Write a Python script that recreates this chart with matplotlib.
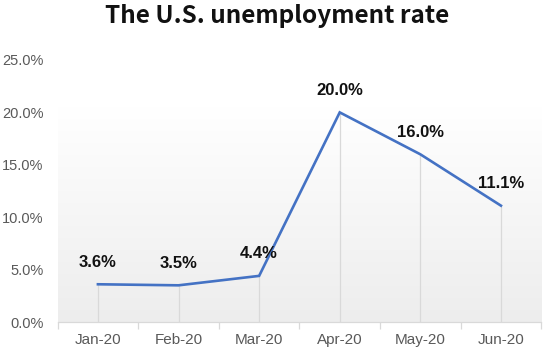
import numpy as np
import matplotlib
matplotlib.use("Agg")
import matplotlib.pyplot as plt
from matplotlib.colors import LinearSegmentedColormap

months = ["Jan-20", "Feb-20", "Mar-20", "Apr-20", "May-20", "Jun-20"]
rates = [3.6, 3.5, 4.4, 20.0, 16.0, 11.1]
yticks = [0, 5, 10, 15, 20, 25]

plt.rcParams['font.family'] = ['Liberation Sans', 'DejaVu Sans']

fig = plt.figure(figsize=(5.54, 3.56), dpi=100)
ax = fig.add_axes([0.104, 0.0955, 0.873, 0.736])

x = np.arange(len(months))

# soft gradient background in the plot area
cmap = LinearSegmentedColormap.from_list("bg", ["#ededed", "#ffffff"])
grad = np.linspace(0, 1, 256).reshape(-1, 1)
ax.imshow(grad, cmap=cmap, aspect="auto", origin="lower",
          extent=[-0.5, 5.5, 0, 20.5], zorder=0)

# drop lines
ax.vlines(x, 0, rates, color="#d9d9d9", lw=0.9, zorder=1)

ax.plot(x, rates, color="#4472C4", lw=1.9, zorder=3, solid_joinstyle="miter")

for xi, r in zip(x, rates):
    ax.annotate(f"{r:.1f}%", (xi, r), xytext=(0, 16), textcoords="offset points",
                ha="center", va="center", fontsize=12, fontweight="bold", color="#111111")

ax.set_xlim(-0.5, 5.5)
ax.set_ylim(0, 25)
ax.set_yticks(yticks)
ax.set_yticklabels([f"{v:.1f}%" for v in yticks])
ax.set_xticks(x)
ax.set_xticklabels(months)
ax.set_xticks(np.arange(-0.5, 6, 1), minor=True)
ax.tick_params(axis="x", which="major", length=0, pad=8, labelsize=11, labelcolor="#595959")
ax.tick_params(axis="x", which="minor", length=5, color="#d9d9d9", width=0.9)
ax.tick_params(axis="y", length=0, pad=10, labelsize=10.5, labelcolor="#595959")

for s in ["top", "right", "left"]:
    ax.spines[s].set_visible(False)
ax.spines["bottom"].set_color("#d9d9d9")
ax.spines["bottom"].set_linewidth(0.9)

fig.suptitle("The U.S. unemployment rate", x=0.5, y=0.99, va="top",
             fontsize=17.5, fontweight="bold", color="#111111",
             family=["Noto Sans CJK SC", "DejaVu Sans"])

fig.savefig("out.png", dpi=100)
